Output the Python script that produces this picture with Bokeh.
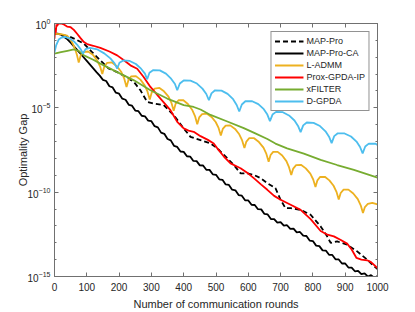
from bokeh.plotting import figure
from bokeh.models import Range1d, FixedTicker, LinearAxis, LogAxis, CustomJSTickFormatter
from bokeh.embed import file_html
from bokeh.resources import INLINE

# ---------------- data (log10 of optimality gap) ----------------
x_ticks = [0, 100, 200, 300, 400, 500, 600, 700, 800, 900, 1000]
y_major = [1e-15, 1e-10, 1e-5, 1.0]
y_minor = [1e-15, 1e-14, 1e-13, 1e-12, 1e-11, 1e-10, 1e-9, 1e-8, 1e-7, 1e-6,
           1e-5, 1e-4, 1e-3, 1e-2, 1e-1, 1.0]

mappro_rounds = [0, 10, 25, 50, 70, 91, 115, 142, 167, 194, 220, 246, 266, 287, 307, 338,
                 369, 400, 421, 452, 483, 504, 535, 555, 576, 597, 617, 638, 659, 684,
                 700, 715, 731, 762, 793, 824, 844, 855, 875, 906, 937, 968, 989, 1000]
mappro_log = [-0.60, -0.60, -0.68, -0.81, -0.98, -1.20, -1.67, -2.19, -2.66, -2.88, -3.15,
              -3.47, -3.96, -4.65, -4.74, -4.84, -5.43, -6.22, -6.72, -6.91, -7.11, -7.40,
              -7.99, -8.39, -8.88, -8.88, -8.98, -9.17, -9.47, -9.76, -10.45, -10.95,
              -10.95, -11.05, -11.34, -12.03, -12.62, -13.01, -12.92, -13.11, -13.51,
              -14.00, -14.39, -14.55]

mapca_rounds = list(range(0, 1001, 10))
mapca_log = [-0.62, -0.62, -0.66, -0.80, -0.94, -1.14, -1.35, -1.56, -1.78, -2.00,
             -2.22, -2.44, -2.66, -2.88, -3.09, -3.34, -3.41, -3.72, -3.79, -4.10,
             -4.16, -4.46, -4.52, -4.82, -4.87, -5.16, -5.20, -5.47, -5.50, -5.76,
             -5.79, -6.09, -6.16, -6.47, -6.54, -6.85, -6.93, -7.25, -7.32, -7.59,
             -7.61, -7.87, -7.89, -8.15, -8.16, -8.41, -8.42, -8.67, -8.68, -8.94,
             -8.97, -9.24, -9.27, -9.54, -9.57, -9.85, -9.89, -10.17, -10.21, -10.48,
             -10.49, -10.75, -10.76, -11.01, -11.02, -11.29, -11.32, -11.59, -11.60, -11.81,
             -11.78, -11.99, -11.96, -12.18, -12.16, -12.38, -12.36, -12.58, -12.60, -12.87,
             -12.90, -13.17, -13.20, -13.45, -13.46, -13.71, -13.72, -13.98, -13.99, -14.23,
             -14.23, -14.47, -14.47, -14.69, -14.66, -14.86, -14.81, -15.00, -14.92, -15.08,
             -14.98]

ladmm_rounds = [0, 20, 39, 50, 58, 65, 70, 75,
                81, 90, 104, 119, 132, 141, 148,
                154, 163, 178, 193, 207, 216, 223,
                229, 237, 252, 266, 279, 288, 295,
                301, 310, 325, 339, 353, 362, 369,
                375, 384, 398, 413, 426, 435, 442,
                448, 457, 471, 486, 499, 508, 515,
                521, 530, 544, 559, 572, 581, 588,
                594, 603, 618, 633, 647, 656, 663,
                669, 677, 691, 705, 718, 726, 733,
                739, 748, 763, 778, 792, 801, 808,
                814, 822, 837, 851, 864, 873, 880,
                886, 895, 910, 925, 939, 948, 955,
                961, 970, 984, 1000]
ladmm_log = [-0.62, -0.63, -0.72, -0.95, -1.25, -1.58, -1.90, -2.32,
             -1.90, -1.69, -1.66, -1.86, -2.18, -2.54, -3.00,
             -2.56, -2.33, -2.31, -2.53, -2.88, -3.27, -3.77,
             -3.35, -3.14, -3.12, -3.33, -3.66, -4.04, -4.51,
             -4.09, -3.86, -3.82, -4.02, -4.34, -4.70, -5.17,
             -4.76, -4.55, -4.54, -4.77, -5.11, -5.49, -5.97,
             -5.57, -5.37, -5.34, -5.54, -5.84, -6.19, -6.64,
             -6.25, -6.05, -6.04, -6.25, -6.57, -6.93, -7.38,
             -7.00, -6.80, -6.80, -7.03, -7.36, -7.73, -8.19,
             -7.80, -7.61, -7.61, -7.83, -8.16, -8.52, -8.98,
             -8.60, -8.40, -8.38, -8.59, -8.90, -9.25, -9.69,
             -9.30, -9.10, -9.09, -9.30, -9.62, -9.98, -10.43,
             -10.05, -9.85, -9.85, -10.08, -10.41, -10.78, -11.24,
             -10.88, -10.70, -10.63, -10.72]

prox_rounds = [0, 2, 4, 6, 8, 12, 20, 29, 39, 50, 60, 70, 80, 91, 101, 120, 142, 170, 194,
               215, 235, 256, 276, 297, 328, 359, 380, 400, 415, 431, 452, 475, 493, 504,
               525, 545, 576, 600, 617, 640, 659, 680, 700, 731, 762, 793, 824, 845, 865,
               885, 906, 920, 935, 950, 968, 980, 1000]
prox_log = [-0.90, -0.25, -0.55, -0.05, -0.15, 0.0, 0.0, -0.06, -0.18, -0.22, -0.38, -0.61,
            -0.85, -1.10, -1.22, -1.32, -1.45, -1.66, -1.89, -2.18, -2.48, -2.68, -3.17,
            -3.76, -4.45, -5.14, -5.83, -6.22, -6.35, -6.42, -6.68, -6.90, -7.11, -7.40,
            -7.90, -8.29, -8.58, -8.90, -9.17, -9.55, -9.86, -10.22, -10.45, -10.75,
            -11.05, -11.60, -12.30, -12.52, -12.62, -12.82, -13.05, -13.40, -13.90, -14.0,
            -14.04, -14.15, -14.50]

xfilter_rounds = [0, 20, 40, 60, 75, 91, 120, 142, 194, 246, 297, 349, 400, 431, 452, 483,
                  535, 586, 620, 659, 684, 720, 772, 824, 875, 927, 1000]
xfilter_log = [-1.79, -1.70, -1.62, -1.54, -1.62, -1.89, -2.15, -2.38, -2.88, -3.37, -3.96,
               -4.45, -4.84, -4.95, -5.10, -5.42, -5.81, -6.20, -6.50, -6.85, -7.12, -7.40,
               -7.72, -8.09, -8.39, -8.68, -9.14]

dgpda_rounds = [0, 5, 13, 22, 32, 45, 60, 72, 80, 85, 88,
                96, 109, 133, 154, 173, 186, 194,
                201, 213, 233, 252, 268, 280, 287,
                294, 306, 326, 345, 361, 373, 380,
                388, 400, 421, 441, 458, 470, 478,
                486, 497, 517, 536, 553, 564, 572,
                580, 591, 612, 631, 648, 659, 667,
                675, 686, 707, 726, 743, 754, 762,
                770, 781, 802, 822, 839, 850, 858,
                866, 877, 898, 918, 935, 946, 954,
                962, 973, 994, 1000]
dgpda_log = [-1.70, -1.30, -0.95, -0.83, -0.80, -0.86, -1.06, -1.30, -1.50, -1.66, -1.79,
             -1.52, -1.44, -1.54, -1.77, -2.07, -2.36, -2.68,
             -2.33, -2.19, -2.22, -2.40, -2.68, -2.97, -3.31,
             -2.92, -2.76, -2.78, -2.97, -3.27, -3.59, -3.96,
             -3.56, -3.38, -3.39, -3.56, -3.86, -4.18, -4.55,
             -4.14, -3.96, -3.98, -4.17, -4.49, -4.83, -5.22,
             -4.80, -4.61, -4.61, -4.78, -5.08, -5.40, -5.79,
             -5.40, -5.24, -5.26, -5.45, -5.75, -6.07, -6.44,
             -6.04, -5.87, -5.89, -6.08, -6.39, -6.71, -7.09,
             -6.68, -6.51, -6.52, -6.70, -7.00, -7.32, -7.70,
             -7.29, -7.12, -7.13, -7.20]

series = [
    ("MAP-Pro", mappro_rounds, mappro_log, "black", "5 3"),
    ("MAP-Pro-CA", mapca_rounds, mapca_log, "black", "solid"),
    ("L-ADMM", ladmm_rounds, ladmm_log, "#EDB120", "solid"),
    ("Prox-GPDA-IP", prox_rounds, prox_log, "#FF0000", "solid"),
    ("xFILTER", xfilter_rounds, xfilter_log, "#77AC30", "solid"),
    ("D-GPDA", dgpda_rounds, dgpda_log, "#4DBEEE", "solid"),
]

FONT = "Liberation Sans"
TXT = "#262626"
AX = "#707070"

p = figure(width=415, height=312, x_range=Range1d(0, 1000), y_range=Range1d(1e-15, 1.0),
           y_axis_type="log", output_backend="svg", toolbar_location=None,
           min_border_left=54, min_border_right=38, min_border_top=23, min_border_bottom=35)
p.outline_line_color = None
p.grid.visible = False
p.background_fill_color = "white"
p.border_fill_color = "white"

for name, xs, ls, color, dash in series:
    ys = [10.0 ** v for v in ls]
    p.line(xs, ys, color=color, line_width=1.8, line_dash=dash, legend_label=name)

yt = FixedTicker(ticks=y_major, minor_ticks=y_minor)
xt = FixedTicker(ticks=x_ticks)

p.xaxis.ticker = xt
p.yaxis.ticker = yt
for ax in (p.xaxis[0], p.yaxis[0]):
    ax.major_tick_in = 4
    ax.major_tick_out = 0
    ax.minor_tick_in = 2
    ax.minor_tick_out = 0
    ax.axis_line_color = AX
    ax.major_tick_line_color = AX
    ax.minor_tick_line_color = AX
    ax.major_label_text_font = FONT
    ax.major_label_text_font_size = "10px"
    ax.major_label_text_color = TXT
    ax.axis_label_text_font = FONT
    ax.axis_label_text_font_size = "11px"
    ax.axis_label_text_font_style = "normal"
    ax.axis_label_text_color = TXT
p.xaxis.minor_tick_line_color = None
p.xaxis.axis_label = "Number of communication rounds"
p.yaxis.axis_label = "Optimality Gap"
p.xaxis.major_label_standoff = 6
p.xaxis.axis_label_standoff = 4
p.yaxis.major_label_standoff = 4
p.yaxis.axis_label_standoff = -4

blank = CustomJSTickFormatter(code="return ''")
top = LinearAxis(ticker=FixedTicker(ticks=x_ticks), formatter=blank,
                 major_tick_in=4, major_tick_out=0, minor_tick_line_color=None,
                 axis_line_color=AX, major_tick_line_color=AX,
                 major_label_text_font_size="1px", major_label_standoff=0)
right = LogAxis(ticker=FixedTicker(ticks=y_major, minor_ticks=y_minor),
                formatter=CustomJSTickFormatter(code="return ''"),
                major_tick_in=4, major_tick_out=0, minor_tick_in=2, minor_tick_out=0,
                axis_line_color=AX, major_tick_line_color=AX, minor_tick_line_color=AX,
                major_label_text_font_size="1px", major_label_standoff=0)
p.add_layout(top, "above")
p.add_layout(right, "right")

lg = p.legend[0]
lg.location = "top_right"
lg.margin = 8
lg.padding = 3
lg.spacing = 0
lg.label_standoff = 3
lg.glyph_width = 29
lg.glyph_height = 12
lg.label_height = 12
lg.label_text_font = FONT
lg.label_text_font_size = "9px"
lg.label_text_color = TXT
lg.border_line_color = "#262626"
lg.border_line_width = 1
lg.background_fill_alpha = 1.0

open("out.html", "w").write(file_html(p, INLINE))
